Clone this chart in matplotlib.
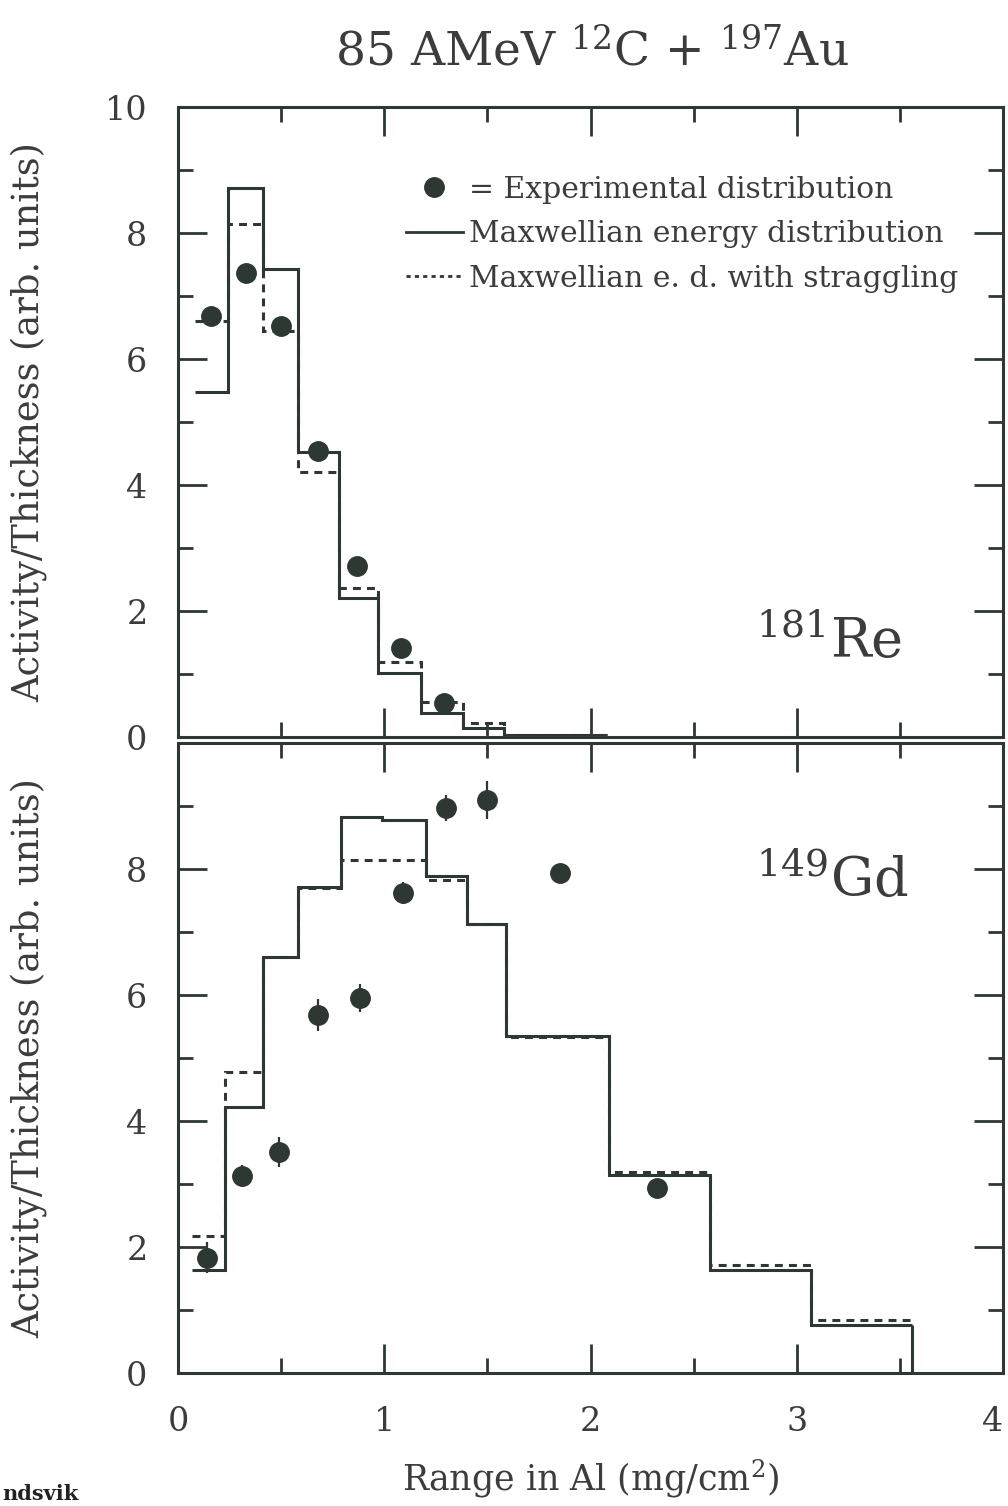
import numpy as np
import matplotlib
matplotlib.use("Agg")
import matplotlib.pyplot as plt
from matplotlib.lines import Line2D
from matplotlib.ticker import MultipleLocator

plt.rcParams["font.family"] = ["DejaVu Serif"]
plt.rcParams["mathtext.fontset"] = "dejavuserif"

INK = "#2e3832"
TXT = "#3c3c3c"

# --- 181Re (upper panel) ---
edges_re = [0.08, 0.24, 0.41, 0.58, 0.78, 0.97, 1.18, 1.38, 1.58, 2.08]
maxw_re = [5.48, 8.72, 7.43, 4.52, 2.20, 1.02, 0.38, 0.14, 0.03]
strag_re = [6.60, 8.15, 6.45, 4.21, 2.36, 1.19, 0.55, 0.22, 0.04]
exp_x_re = [0.16, 0.33, 0.50, 0.68, 0.87, 1.08, 1.29]
exp_y_re = [6.69, 7.36, 6.53, 4.54, 2.71, 1.42, 0.54]
exp_err_re = [0.0, 0.0, 0.0, 0.1, 0.0, 0.0, 0.0]

# --- 149Gd (lower panel) ---
edges_gd = [0.07, 0.23, 0.41, 0.58, 0.79, 0.99, 1.20, 1.40, 1.59, 2.09, 2.58, 3.07, 3.56]
maxw_gd = [1.63, 4.23, 6.61, 7.72, 8.83, 8.78, 7.89, 7.13, 5.35, 3.14, 1.63, 0.76]
strag_gd = [2.17, 4.78, 6.61, 7.70, 8.14, 8.14, 7.83, 7.13, 5.33, 3.19, 1.71, 0.84]
exp_x_gd = [0.14, 0.31, 0.49, 0.68, 0.88, 1.09, 1.30, 1.50, 1.85, 2.32]
exp_y_gd = [1.83, 3.13, 3.51, 5.68, 5.95, 7.62, 8.97, 9.10, 7.94, 2.94]
exp_err_gd = [0.25, 0.17, 0.24, 0.25, 0.22, 0.17, 0.20, 0.30, 0.0, 0.0]

x_ticks = [0, 1, 2, 3, 4]
DASH = (0, (2.6, 2.0))


def draw_panel(ax, edges, maxw, strag, ex, ey, eerr, close_right=False):
    ax.stairs(maxw, edges, baseline=None, color=INK, lw=2.2)
    ax.stairs(strag, edges, baseline=None, color=INK, lw=2.2, ls=DASH)
    if close_right:
        ax.vlines(edges[-1], 0, maxw[-1], color=INK, lw=2.2)
    ax.errorbar(ex, ey, yerr=eerr, fmt="o", ms=14, color=INK,
                ecolor=INK, elinewidth=1.6, capsize=0, zorder=5)

    ax.set_xlim(0, 4)
    ax.set_ylim(0, 10)
    ax.set_xticks(x_ticks)
    ax.xaxis.set_minor_locator(MultipleLocator(0.5))
    ax.yaxis.set_minor_locator(MultipleLocator(1))
    ax.tick_params(which="both", direction="in", top=True, right=True,
                   color=INK, width=2.0, labelsize=24, labelcolor=TXT)
    ax.tick_params(which="major", length=21)
    ax.tick_params(which="minor", length=11)
    ax.tick_params(axis="y", pad=22)
    ax.tick_params(axis="x", pad=24)
    for sp in ax.spines.values():
        sp.set_color(INK)
        sp.set_linewidth(2.2)
    ax.set_ylabel("Activity/Thickness (arb. units)", fontsize=26.5, color=TXT)
    ax.yaxis.set_label_coords(-0.158, 0.5)


fig = plt.figure(figsize=(10.08, 15.06), dpi=100)
ax_top = fig.add_axes([0.1766, 0.5106, 0.8185, 0.4183])
ax_bot = fig.add_axes([0.1766, 0.0883, 0.8185, 0.4183])

draw_panel(ax_top, edges_re, maxw_re, strag_re, exp_x_re, exp_y_re, exp_err_re)
draw_panel(ax_bot, edges_gd, maxw_gd, strag_gd, exp_x_gd, exp_y_gd, exp_err_gd,
           close_right=True)

ax_top.set_xticklabels([])
ax_top.set_yticks([0, 2, 4, 6, 8, 10])
ax_bot.set_yticks([0, 2, 4, 6, 8])
ax_bot.set_xlabel(r"Range in Al (mg/cm$^{2}$)", fontsize=25, color=TXT, labelpad=14)
# last x label sits on the right edge of the page
ax_bot.get_xticklabels()[-1].set_horizontalalignment("right")

ax_top.text(0.70, 0.125, r"$^{181}$Re", transform=ax_top.transAxes,
            fontsize=39, color=TXT, va="baseline")
ax_bot.text(0.70, 0.755, r"$^{149}$Gd", transform=ax_bot.transAxes,
            fontsize=39, color=TXT, va="baseline")

handles = [
    Line2D([], [], marker="o", ms=14, ls="none", color=INK),
    Line2D([], [], color=INK, lw=2.0),
    Line2D([], [], color=INK, lw=2.0, ls=(0, (1.5, 1.5))),
]
labels = ["= Experimental distribution",
          "Maxwellian energy distribution",
          "Maxwellian e. d. with straggling"]
leg = ax_top.legend(handles, labels, loc="upper left", bbox_to_anchor=(0.262, 0.91),
                    frameon=False, fontsize=21.5, handlelength=1.9, handletextpad=0.2,
                    labelspacing=0.55, borderaxespad=0)
for t in leg.get_texts():
    t.set_color(TXT)

fig.text(0.587, 0.965, r"85 AMeV $^{12}$C + $^{197}$Au", ha="center", va="center",
         fontsize=34, color=TXT)
fig.text(0.002, 0.004, "ndsvik", fontsize=15, fontweight="bold", color="#222222")

fig.savefig("out.png", dpi=100, facecolor="white")
